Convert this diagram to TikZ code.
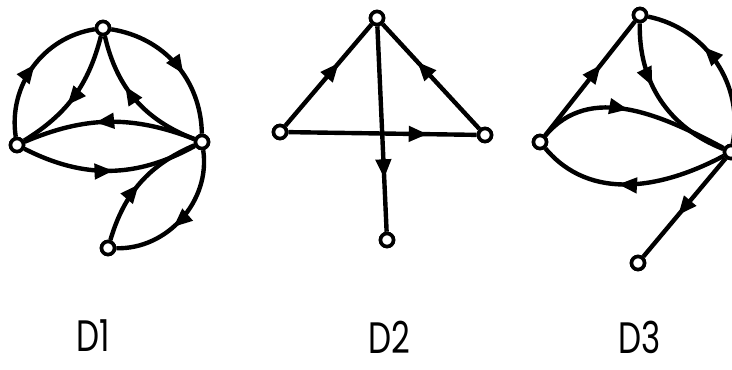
\documentclass[tikz,border=0pt]{standalone}
\usepackage{fontspec}
\setmainfont{Poppins}
\usetikzlibrary{arrows.meta,decorations.markings}
\tikzset{
  vtx/.style={circle,draw=black,fill=white,line width=3.6pt,minimum size=13pt,inner sep=0pt},
  edge/.style={line width=4.4pt,draw=black},
  midarrow/.style={postaction={decorate,decoration={markings,
     mark=at position #1 with {\arrow{Triangle[length=19pt,width=15pt]}}}}},
  midarrow/.default=0.55,
  lbl/.style={inner sep=0pt,font=\fontsize{44}{48}\selectfont,xscale=0.74,transform shape}
}
\begin{document}
\begin{tikzpicture}[x=1pt,y=-1pt]
\useasboundingbox (0,0) rectangle (732,370);
% ---------- D1 ----------
\node[vtx] (aT) at (103,28) {};
\node[vtx] (aL) at (17,145) {};
\node[vtx] (aR) at (202,142) {};
\node[vtx] (aB) at (108,248) {};
\draw[edge,midarrow=0.52] (aL) to[bend left=45] (aT);
\draw[edge,midarrow=0.58] (aT) to[bend left=40] (aR);
\draw[edge,midarrow=0.58] (aT) to[bend left=22] (aL);
\draw[edge,midarrow=0.62] (aR) to[bend left=28] (aT);
\draw[edge,midarrow=0.58] (aR) to[bend right=22] (aL);
\draw[edge,midarrow=0.52] (aL) to[bend right=28] (aR);
\draw[edge,midarrow=0.48] (aB) to[bend left=25] (aR);
\draw[edge,midarrow=0.58] (aR) to[bend left=50] (aB);
% ---------- D2 ----------
\node[vtx] (bT) at (377,18) {};
\node[vtx] (bL) at (280,132) {};
\node[vtx] (bR) at (485,135) {};
\node[vtx] (bB) at (387,240) {};
\draw[edge,midarrow=0.62] (bL) -- (bT);
\draw[edge,midarrow=0.64] (bR) -- (bT);
\draw[edge,midarrow=0.74] (bL) -- (bR);
\draw[edge,midarrow=0.74] (bT) -- (bB);
% ---------- D3 ----------
\node[vtx] (cT) at (640,15) {};
\node[vtx] (cL) at (540,142) {};
\node[vtx] (cR) at (731,152) {};
\node[vtx] (cB) at (638,263) {};
\draw[edge,midarrow=0.62] (cL) -- (cT);
\draw[edge,midarrow=0.4] (cT) to[bend right=35] (cR);
\draw[edge,midarrow=0.62] (cR) to[bend right=45] (cT);
\draw[edge,midarrow=0.47] (cL) to[out=50,in=152] (cR);
\draw[edge,midarrow=0.57] (cR) to[out=208,in=-50] (cL);
\draw[edge,midarrow=0.58] (cR) -- (cB);
% redraw vertices on top of the connectors
\foreach \n in {aT,aL,aR,aB,bT,bL,bR,bB,cT,cL,cR,cB}{
  \path (\n.center) node[vtx] {};
}
% ---------- labels ----------
\node[lbl] (l1) at (93,336) {D1};
\node[lbl] (l2) at (389,337) {D2};
\node[lbl] (l3) at (640,337) {D3};
\end{tikzpicture}
\end{document}
